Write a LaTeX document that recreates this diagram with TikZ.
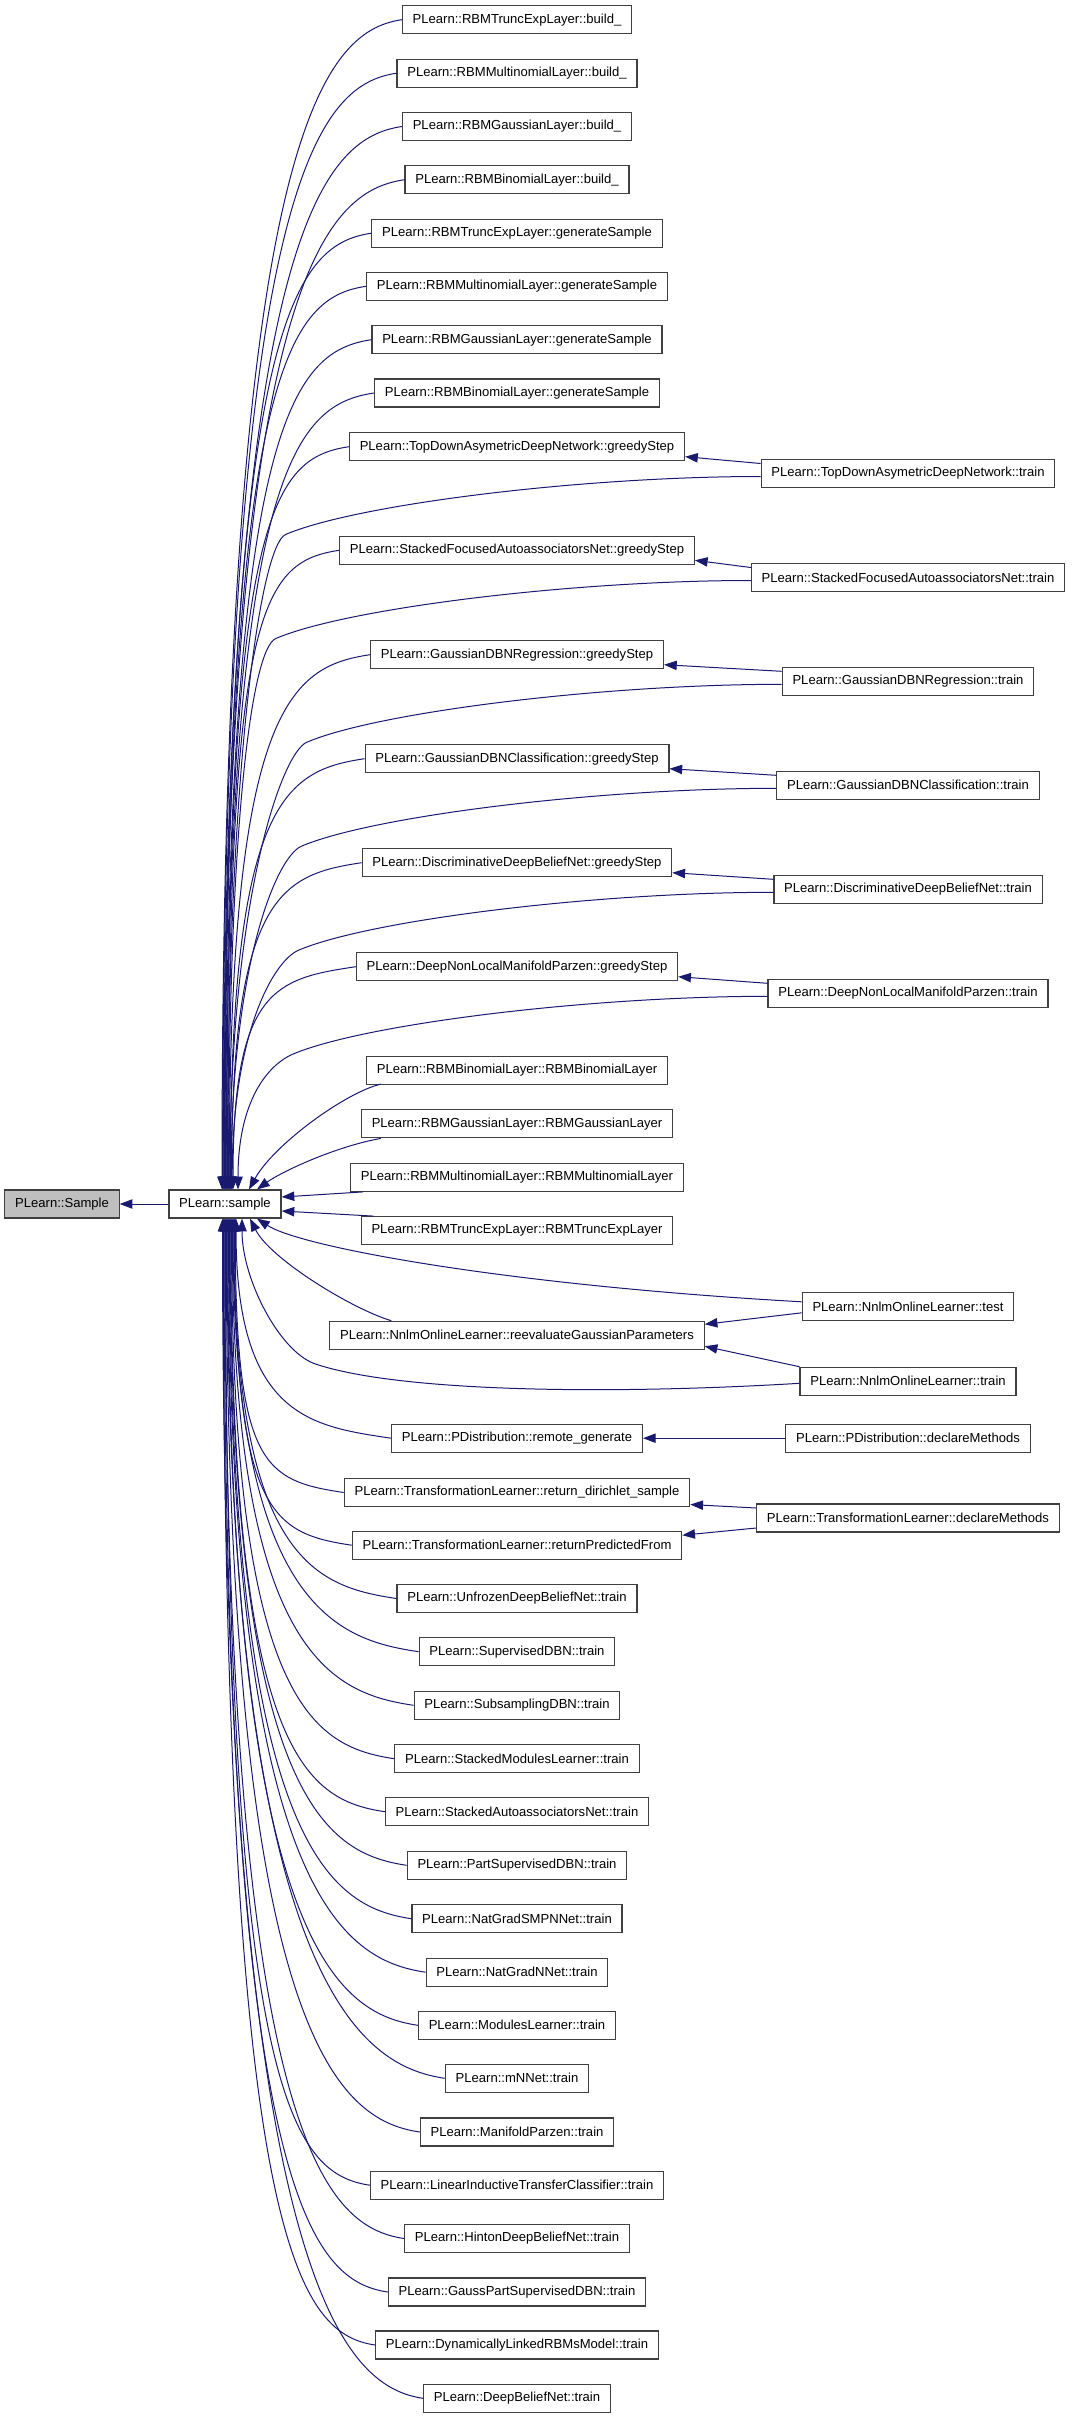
\documentclass[tikz,border=0pt]{standalone}
\usepackage{fontspec}
\setmainfont{Liberation Sans}
\usetikzlibrary{arrows.meta,calc}

\definecolor{edgeblue}{HTML}{191970}

\begin{document}
\begin{tikzpicture}[x=0.75pt, y=-0.75pt, >={Triangle[length=9.5pt,width=7pt]},
  font=\fontsize{9.8}{11}\selectfont,
  fn/.style={draw=black!75, line width=0.9pt, fill=white, minimum height=21pt, inner xsep=7.7pt, inner ysep=0pt},
  root/.style={fn, fill=black!25},
  call/.style={->, edgeblue, line width=0.75pt}]
\path[fill=white] (0,0) rectangle (1075,2419);
% callee and its caller
\node[root] (smp) at (62,1204) {PLearn::Sample};
\node[fn] (sam) at (225,1204) {PLearn::sample};
% direct callers of PLearn::sample
\foreach \nm/\yy/\txt in {
  m0/19.7/RBMTruncExpLayer::build\_,
  m1/73.2/RBMMultinomialLayer::build\_,
  m2/126.5/RBMGaussianLayer::build\_,
  m3/179.7/RBMBinomialLayer::build\_,
  m4/233.2/RBMTruncExpLayer::generateSample,
  m5/286.3/RBMMultinomialLayer::generateSample,
  m6/339.7/RBMGaussianLayer::generateSample,
  m7/393/RBMBinomialLayer::generateSample,
  m8/446.7/TopDownAsymetricDeepNetwork::greedyStep,
  m9/550.3/StackedFocusedAutoassociatorsNet::greedyStep,
  m10/654.7/GaussianDBNRegression::greedyStep,
  m11/758.7/GaussianDBNClassification::greedyStep,
  m12/862.7/DiscriminativeDeepBeliefNet::greedyStep,
  m13/966.7/DeepNonLocalManifoldParzen::greedyStep,
  m14/1070.5/RBMBinomialLayer::RBMBinomialLayer,
  m15/1123.8/RBMGaussianLayer::RBMGaussianLayer,
  m16/1177.3/RBMMultinomialLayer::RBMMultinomialLayer,
  m17/1230.7/RBMTruncExpLayer::RBMTruncExpLayer,
  m18/1335.3/NnlmOnlineLearner::reevaluateGaussianParameters,
  m19/1438.2/PDistribution::remote\_generate,
  m20/1492.5/TransformationLearner::return\_dirichlet\_sample,
  m21/1545.2/TransformationLearner::returnPredictedFrom,
  m22/1598.5/UnfrozenDeepBeliefNet::train,
  m23/1651.7/SupervisedDBN::train,
  m24/1705.3/SubsamplingDBN::train,
  m25/1758.7/StackedModulesLearner::train,
  m26/1811.7/StackedAutoassociatorsNet::train,
  m27/1865.3/PartSupervisedDBN::train,
  m28/1918.7/NatGradSMPNNet::train,
  m29/1972.2/NatGradNNet::train,
  m30/2025.3/ModulesLearner::train,
  m31/2078.3/mNNet::train,
  m32/2132/ManifoldParzen::train,
  m33/2185.2/LinearInductiveTransferClassifier::train,
  m34/2238.5/HintonDeepBeliefNet::train,
  m35/2292/GaussPartSupervisedDBN::train,
  m36/2345/DynamicallyLinkedRBMsModel::train,
  m37/2398.3/DeepBeliefNet::train}
  \node[fn] (\nm) at (517,\yy) {PLearn::\txt};
% second level callers
\foreach \nm/\yy/\txt in {
  r8/473.5/TopDownAsymetricDeepNetwork::train,
  r9/577.5/StackedFocusedAutoassociatorsNet::train,
  r10/681.3/GaussianDBNRegression::train,
  r11/785.3/GaussianDBNClassification::train,
  r12/889.3/DiscriminativeDeepBeliefNet::train,
  r13/993.3/DeepNonLocalManifoldParzen::train,
  rt/1306.8/NnlmOnlineLearner::test,
  rn/1381.3/NnlmOnlineLearner::train,
  rp/1438.2/PDistribution::declareMethods,
  rd/1518/TransformationLearner::declareMethods}
  \node[fn] (\nm) at (908,\yy) {PLearn::\txt};
% sample -> Sample
\draw[call] (sam) -- (smp);
% callers above, entering the top of sample
\foreach \nm/\yy/\ex in {m0/19.7/-3, m1/73.2/-2.4, m2/126.5/-1.8, m3/179.7/-1.2,
  m4/233.2/-0.6, m5/286.3/0, m6/339.7/0.6, m7/393/1.2, m8/446.7/1.8, m9/550.3/3,
  m10/654.7/4.2, m11/758.7/5.4, m12/862.7/6.6, m13/966.7/8}{
  \pgfmathsetmacro\dy{0.9*(1190-\yy)}
  \draw[call] (\nm.west) .. controls +(-80,12) and +(0,-\dy) .. ($(sam.north)+(\ex,0)$);
}
% train callers, passing under their greedyStep
\foreach \nm/\yy/\ex in {r8/473.5/2.4, r9/577.5/3.6, r10/681.3/4.8, r11/785.3/6,
  r12/889.3/7.2, r13/993.3/13}{
  \pgfmathsetmacro\dy{0.65*(1190-\yy-61)}
  \draw[call] ($(\nm.west)+(0,3)$) .. controls +(-180,0) and +(70,-30) .. ($(\nm.west)+(-475,61)$)
    .. controls +(-25,11) and +(0,-\dy) .. ($(sam.north)+(\ex,0)$);
}
% the four constructors next to sample
\draw[call] ($(m14.south west)+(15,-1)$) .. controls +(-35,8) and +(25,-45) .. ($(sam.north)+(24,0)$);
\draw[call] ($(m15.south west)+(20,0)$) .. controls +(-45,8) and +(25,-18) .. ($(sam.north)+(32,0)$);
\draw[call] ($(m16.south west)+(13,0)$) -- ($(sam.east)+(0,-7)$);
\draw[call] ($(m17.north west)+(13,0)$) -- ($(sam.east)+(0,7)$);
% Nnlm group
\draw[call] ($(rt.west)+(0,-5)$) .. controls +(-300,-17) and +(43,28) .. ($(sam.south)+(32,0)$);
\draw[call] ($(m18.north west)+(62,0)$) .. controls +(-40,-12) and +(20,40) .. ($(sam.south)+(25,0)$);
\draw[call] ($(rn.west)+(0,2)$) .. controls +(-200,12) and +(80,28) .. ($(rn.west)+(-486,-18)$)
  .. controls +(-35,-14) and +(0,60) .. ($(sam.south)+(17,0)$);
% callers below, entering the bottom of sample
\foreach \nm/\yy/\ex in {m19/1438.2/11, m20/1492.5/10.25, m21/1545.2/9.5, m22/1598.5/8.75,
  m23/1651.7/8, m24/1705.3/7.25, m25/1758.7/6.5, m26/1811.7/5.75, m27/1865.3/5,
  m28/1918.7/4.25, m29/1972.2/3.5, m30/2025.3/2.75, m31/2078.3/2, m32/2132/1.25,
  m33/2185.2/0.5, m34/2238.5/-0.25, m35/2292/-1, m36/2345/-1.75, m37/2398.3/-2.5}{
  \pgfmathsetmacro\dy{0.9*(\yy-1218)}
  \draw[call] (\nm.west) .. controls +(-80,-12) and +(0,\dy) .. ($(sam.south)+(\ex,0)$);
}
% second level to first level
\foreach \gs/\tr in {m8/r8, m9/r9, m10/r10, m11/r11, m12/r12, m13/r13}
  \draw[call] ($(\tr.west)+(0,-10)$) -- ($(\gs.east)+(0,10)$);
\draw[call] ($(rt.west)+(0,6)$) -- ($(m18.east)+(0,-11)$);
\draw[call] (rn.north west) -- ($(m18.east)+(0,11)$);
\draw[call] (rp) -- (m19);
\draw[call] ($(rd.west)+(0,-10)$) -- ($(m20.east)+(0,12)$);
\draw[call] ($(rd.west)+(0,10)$) -- ($(m21.east)+(0,-10)$);
\end{tikzpicture}
\end{document}
